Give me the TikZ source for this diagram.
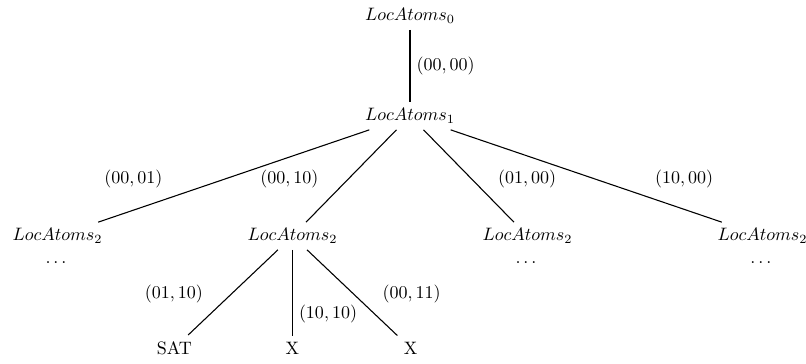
\documentclass[tikz,border=0pt]{standalone}
\usepackage{amsmath,amssymb}
\usepackage{tikz}

\begin{document}
\begin{tikzpicture}
	\useasboundingbox (-8.007,0.3125) rectangle (7.734,-6.777);
	\node (l0) at (0,0) {$LocAtoms_0$};
	\node (l1) at (0,-1.953) {$LocAtoms_1$};
	\node (l2a) at (-6.884,-4.297) {$LocAtoms_2$};
	\node (l2b) at (-2.295,-4.297) {$LocAtoms_2$};
	\node (l2c) at (2.295,-4.297) {$LocAtoms_2$};
	\node (l2d) at (6.884,-4.297) {$LocAtoms_2$};
	\node (d2a) at (-6.884,-4.824) {$\dots$};
	\node (d2c) at (2.295,-4.824) {$\dots$};
	\node (d2d) at (6.884,-4.824) {$\dots$};
	\node (sat) at (-4.60,-6.484) {SAT};
	\node (xa) at (-2.295,-6.484) {X};
	\node (xb) at (0.01,-6.484) {X};
	\path[semithick]
	(l0) edge node[right]{$(00,00)$} (l1)
	(l1) edge node[xshift=-55.8pt,yshift=-1.7pt]{$(00,01)$} (l2a)
	(l1) edge node[xshift=-34.4pt,yshift=-1.7pt]{$(00,10)$} (l2b)
	(l1) edge node[xshift=32.5pt,yshift=-1.7pt]{$(01,00)$} (l2c)
	(l1) edge node[xshift=54.4pt,yshift=-1.7pt]{$(10,00)$} (l2d)
	(l2b) edge node[xshift=-32.8pt,yshift=-0.8pt]{$(01,10)$} (sat)
	(l2b) edge node[right,pos=0.75]{$(10,10)$} (xa)
	(l2b) edge node[xshift=33pt,yshift=-0.8pt]{$(00,11)$} (xb);
\end{tikzpicture}
\end{document}
